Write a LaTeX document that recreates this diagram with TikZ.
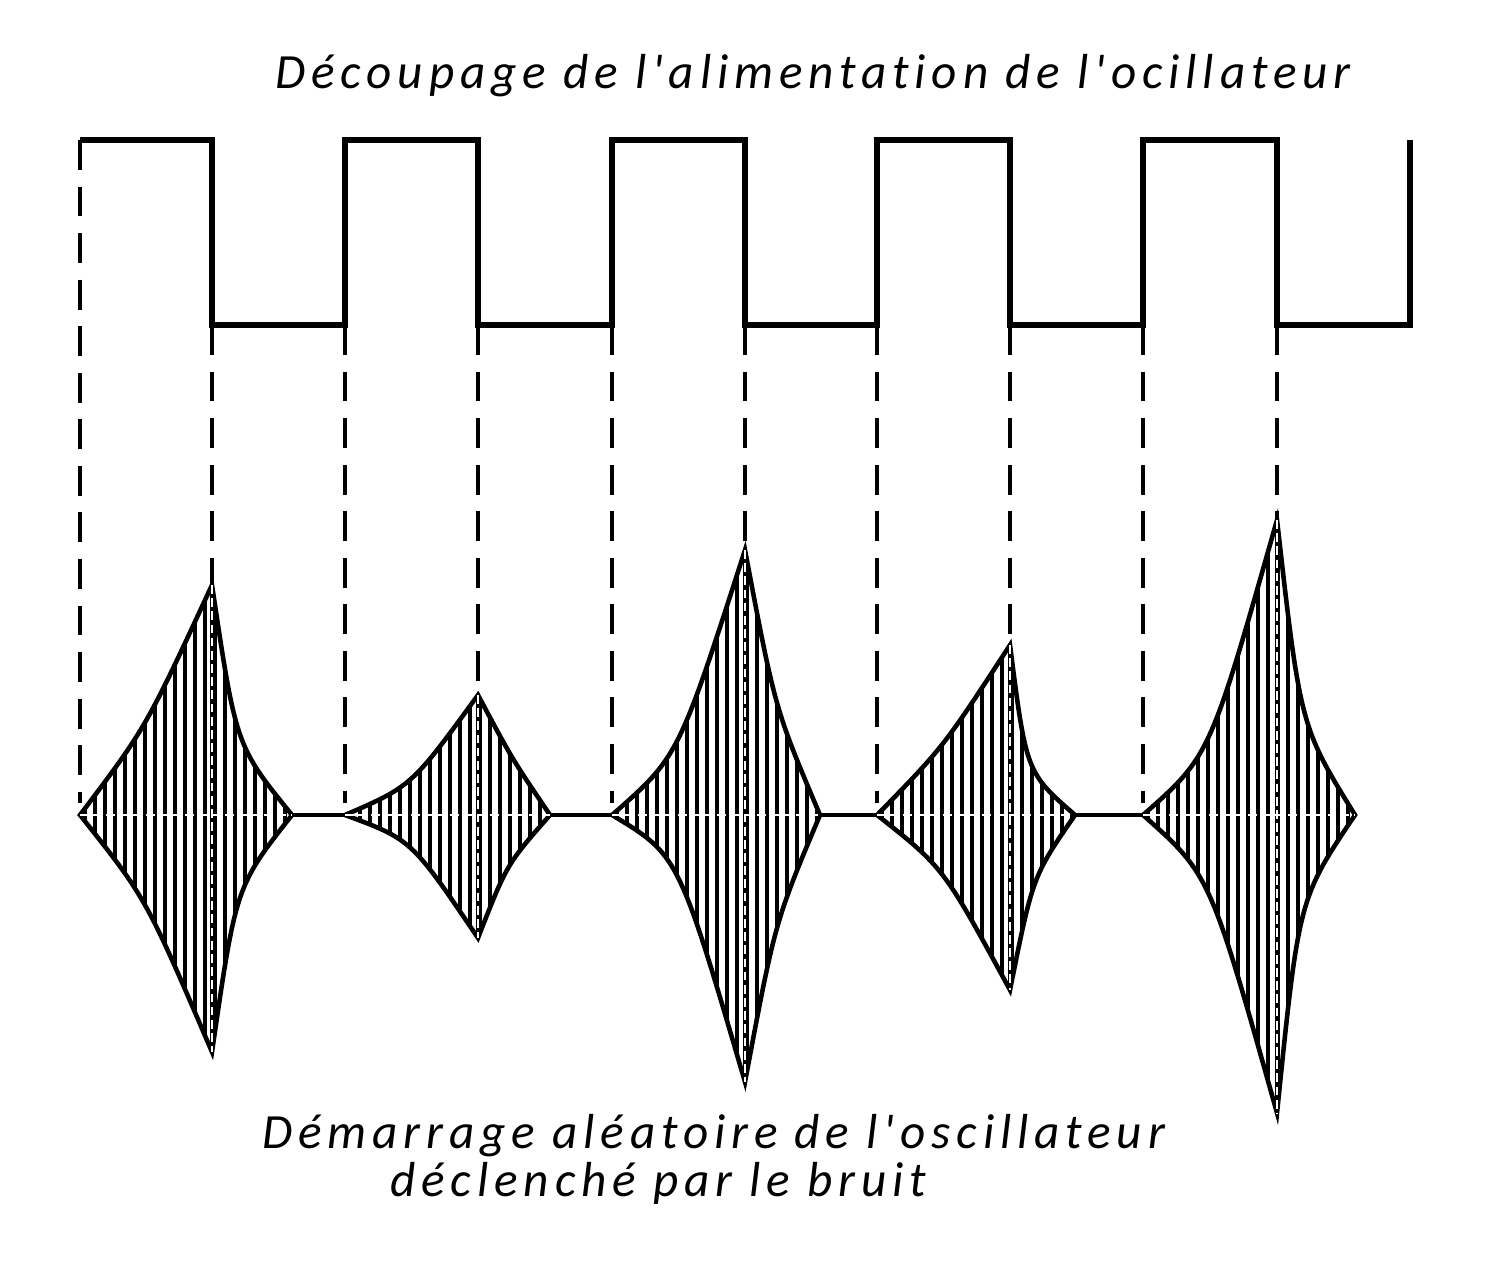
\documentclass[tikz,border=0pt]{standalone}
\usepackage{fontspec}
\newfontfamily\legendfont[LetterSpace=12,Ligatures={TeXOff,NoCommon,NoRare}]{Carlito}
\usetikzlibrary{positioning}

\begin{document}
\begin{tikzpicture}[x=0.02cm,y=-0.02cm,line join=miter]
\tikzstyle{wave}=[line width=3.4pt]
\tikzstyle{guide}=[line width=1.8pt,dash pattern=on 17pt off 9.5pt]
\tikzstyle{envelope}=[line width=2.6pt]
\tikzstyle{hatch}=[line width=2.1pt]
\tikzstyle{axisgap}=[white,line width=1pt,dash pattern=on 5pt off 2.5pt]
\tikzset{legend/.style={font=\legendfont\itshape\fontsize{28pt}{33pt}\selectfont,inner sep=0pt}}

\useasboundingbox (0,0) rectangle (1500,1280);

        % alimentation decoupee
        \draw[wave] (80,140) coordinate (r1) -- (212,140) -- (212,325) coordinate (f1)
          -- (345,325) coordinate (r2) -- (345,140) -- (478,140) -- (478,325) coordinate (f2)
          -- (612,325) coordinate (r3) -- (612,140) -- (745,140) -- (745,325) coordinate (f3)
          -- (877,325) coordinate (r4) -- (877,140) -- (1010,140) -- (1010,325) coordinate (f4)
          -- (1143,325) coordinate (r5) -- (1143,140) -- (1277,140) -- (1277,325) coordinate (f5)
          -- (1410,325) -- (1410,140);

        % salves de l'oscillateur : depart, crete, fin, amplitudes, courbures
        \foreach \i/\xs/\xp/\xe/\at/\ab/\rt/\dt/\rb/\db in {
              1/80/212/292/230/237/0.38/0.30/0.35/0.30,
              2/345/478/550/120/123/0.24/0.47/0.20/0.40,
              3/612/745/820/265/267/0.22/0.40/0.15/0.40,
              4/877/1010/1075/170/175/0.40/0.25/0.30/0.35,
              5/1143/1277/1355/295/298/0.20/0.30/0.20/0.28}
        {
          \coordinate (s\i) at (\xs,815);
          \coordinate (g\i) at (\xs,803);
          \coordinate (pk\i) at (\xp,815-\at);
          \coordinate (pb\i) at (\xp,815+\ab);
          \coordinate (e\i) at (\xe,815);
          \def\envpath{(s\i) .. controls ({\xs+0.5*(\xp-\xs)},{815-\rt*\at}) .. (pk\i)
            .. controls ({\xp+\dt*(\xe-\xp)},{815-\dt*\at}) .. (e\i)
            .. controls ({\xp+\db*(\xe-\xp)},{815+\db*\ab}) .. (pb\i)
            .. controls ({\xs+0.5*(\xp-\xs)},{815+\rb*\ab}) .. (s\i) -- cycle}
          \begin{scope}
            \clip \envpath;
            \foreach \h in {5,15,...,300}
              \draw[hatch] (\xs+\h,400) -- (\xs+\h,1200);
          \end{scope}
          \draw[envelope] \envpath;
          \draw[envelope] (pk\i) -- (pb\i);
          \draw[axisgap] (pk\i) -- (pb\i);
          \draw[axisgap] (s\i) -- (e\i);
        }

        \path[envelope]
        (e1) edge (s2)
        (e2) edge (s3)
        (e3) edge (s4)
        (e4) edge (s5)
        ; %end path

        % reperes
        \foreach \i in {1,...,5}
        {
          \draw[guide] (r\i) -- (g\i);
          \draw[guide] (f\i) -- (pk\i);
        }

        \node[legend,anchor=base west] (titre) at (275,89) {Découpage de l'alimentation de l'ocillateur};
        \node[legend,anchor=base west] (bas1) at (262,1148) {Démarrage aléatoire de l'oscillateur};
        \node[legend,anchor=base west] (bas2) at (390,1196) {déclenché par le bruit};

\end{tikzpicture}
\end{document}
